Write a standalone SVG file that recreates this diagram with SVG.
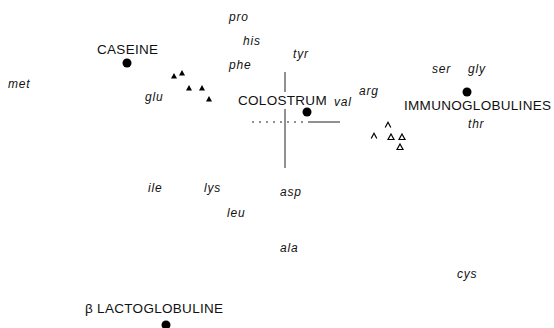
<svg xmlns="http://www.w3.org/2000/svg" width="554" height="328" viewBox="0 0 554 328">
<style>
.cap{font-family:"Liberation Sans",Arial,sans-serif;font-size:13.5px;fill:#111;letter-spacing:0.3px}
.aa{font-family:"Liberation Sans",Arial,sans-serif;font-size:12px;font-style:italic;fill:#111;letter-spacing:0.8px}
.dot{fill:#000}
.axis{stroke:#222;stroke-width:1;fill:none}
.tf{fill:#000}
.th{fill:none;stroke:#000;stroke-width:1.2}
</style>
<defs>
<path id="tri" d="M0,-3 L3,2.5 L-3,2.5 Z"/>
<path id="caret" d="M-2.8,2.5 L0,-2.8 L2.8,2.5"/>
</defs>
<rect width="554" height="328" fill="#fff"/>
<g id="connectors">
<line class="axis" x1="285" y1="72" x2="285" y2="92"/>
<line class="axis" x1="285" y1="109" x2="285" y2="168"/>
<line class="axis" x1="252" y1="122" x2="310" y2="122" stroke-dasharray="2,5" stroke="#888"/>
<line class="axis" x1="310" y1="122" x2="340" y2="122"/>
</g>
<g id="caseine"><text class="cap" x="97" y="54">CASEINE</text><circle class="dot" cx="127" cy="63" r="4.5"/></g>
<g id="colostrum"><text class="cap" x="238" y="105">COLOSTRUM</text><circle class="dot" cx="307" cy="112" r="4.5"/></g>
<g id="immunoglobulines"><text class="cap" x="404" y="110">IMMUNOGLOBULINES</text><circle class="dot" cx="467" cy="92" r="4.5"/></g>
<g id="lactoglobuline"><text class="cap" x="85" y="313">β LACTOGLOBULINE</text><circle class="dot" cx="166" cy="325" r="4.5"/></g>
<g id="filled-triangles" class="tf">
<use href="#tri" x="174" y="76"/><use href="#tri" x="182" y="73"/><use href="#tri" x="189" y="88"/><use href="#tri" x="202" y="88"/><use href="#tri" x="209" y="99"/>
</g>
<g id="open-triangles" class="th">
<use href="#caret" x="388" y="125"/><use href="#caret" x="374" y="136"/><use href="#tri" x="391" y="137"/><use href="#tri" x="402" y="137"/><use href="#tri" x="400" y="147"/>
</g>
<g id="amino-acids">
<g id="pro"><text class="aa" x="229" y="21">pro</text></g>
<g id="his"><text class="aa" x="243" y="45">his</text></g>
<g id="phe"><text class="aa" x="229" y="69">phe</text></g>
<g id="met"><text class="aa" x="8" y="88">met</text></g>
<g id="glu"><text class="aa" x="145" y="101">glu</text></g>
<g id="tyr"><text class="aa" x="293" y="58">tyr</text></g>
<g id="val"><text class="aa" x="334" y="106">val</text></g>
<g id="arg"><text class="aa" x="359" y="95">arg</text></g>
<g id="ser"><text class="aa" x="432" y="73">ser</text></g>
<g id="gly"><text class="aa" x="468" y="73">gly</text></g>
<g id="thr"><text class="aa" x="468" y="128">thr</text></g>
<g id="ile"><text class="aa" x="148" y="192">ile</text></g>
<g id="lys"><text class="aa" x="204" y="192">lys</text></g>
<g id="asp"><text class="aa" x="280" y="196">asp</text></g>
<g id="leu"><text class="aa" x="227" y="217">leu</text></g>
<g id="ala"><text class="aa" x="280" y="252">ala</text></g>
<g id="cys"><text class="aa" x="457" y="278">cys</text></g>
</g>
</svg>
